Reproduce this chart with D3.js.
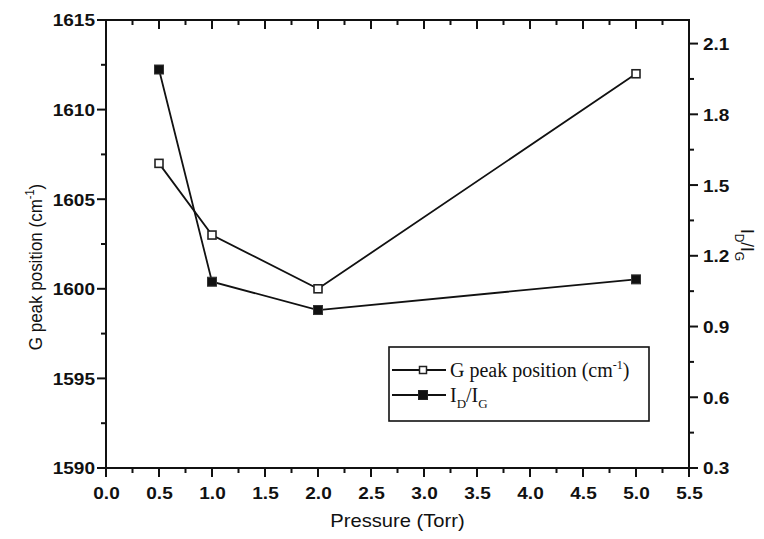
<!DOCTYPE html>
<html>
<head>
<meta charset="utf-8">
<script src="https://cdn.jsdelivr.net/npm/d3@7/dist/d3.min.js"></script>
<style>
  html, body { margin: 0; padding: 0; background: #fff; }
  svg { display: block; }
</style>
</head>
<body>
<svg id="chart" width="764" height="539"></svg>
<script>
// Pressure settings (Torr)
const pressure = [0.5, 1.0, 2.0, 5.0];
// Raman G band position (cm^-1), left axis
const gPeak = [1607, 1603, 1600, 1612];
// D/G intensity ratio, right axis
const idIg = [1.99, 1.09, 0.97, 1.10];

// Axis tick values
const xTicks = [0, 0.5, 1, 1.5, 2, 2.5, 3, 3.5, 4, 4.5, 5, 5.5];
const xMinor = [0.25, 0.75, 1.25, 1.75, 2.25, 2.75, 3.25, 3.75, 4.25, 4.75, 5.25];
const yLeftTicks = [1590, 1595, 1600, 1605, 1610, 1615];
const yLeftMinor = [1592.5, 1597.5, 1602.5, 1607.5, 1612.5];
const yRightTicks = [0.3, 0.6, 0.9, 1.2, 1.5, 1.8, 2.1];
const yRightMinor = [0.45, 0.75, 1.05, 1.35, 1.65, 1.95];

const svg = d3.select("#chart");
const L = 106, R = 689, T = 20, B = 468;
const SX = 1.12; // horizontal widening of the sans-serif lettering
const MAJ = 9, MIN = 5;

const x = d3.scaleLinear().domain([0, 5.5]).range([L, R]);
const yL = d3.scaleLinear().domain([1590, 1615]).range([B, T]);
const yR = d3.scaleLinear().domain([0.3, 2.2]).range([B, T]);

const sans = "'Liberation Sans', Arial, Helvetica, sans-serif";
const serif = "'Liberation Serif', 'Times New Roman', Times, serif";
const ink = "#111";

// tick marks: bottom/left/right point outward, top points into the plot
const tickG = svg.append("g").attr("stroke", ink).attr("stroke-width", 2);
function hTicks(vals, len, y0, dir) {
  tickG.append("g").selectAll("line").data(vals).join("line")
    .attr("x1", d => x(d)).attr("x2", d => x(d))
    .attr("y1", y0).attr("y2", y0 + dir * len);
}
function vTicks(scale, vals, len, x0, dir) {
  tickG.append("g").selectAll("line").data(vals).join("line")
    .attr("y1", d => scale(d)).attr("y2", d => scale(d))
    .attr("x1", x0).attr("x2", x0 + dir * len);
}
hTicks(xTicks, MAJ, B, 1);
hTicks(xMinor, MIN, B, 1);
hTicks(xTicks, MAJ, T, 1);
hTicks(xMinor, MIN, T, 1);
vTicks(yL, yLeftTicks, MAJ, L, -1);
vTicks(yL, yLeftMinor, MIN, L, -1);
vTicks(yR, yRightTicks, MAJ, R, 1);
vTicks(yR, yRightMinor, MIN, R, 1);

// tick labels via d3 axes
function labelAxis(g, tx) {
  g.select(".domain").remove();
  g.selectAll(".tick line").remove();
  g.selectAll(".tick text")
    .attr("font-family", sans).attr("font-size", 17).attr("font-weight", "bold")
    .attr("fill", ink).attr("x", 0).attr("y", 0).attr("dy", "0.35em")
    .attr("transform", `${tx} scale(${SX},1)`);
}
const fmt1 = d3.format(".1f");
svg.append("g").attr("transform", `translate(0,${B})`)
  .call(d3.axisBottom(x).tickValues(xTicks).tickFormat(fmt1))
  .call(g => labelAxis(g, "translate(0,25)"));
svg.append("g").attr("transform", `translate(${L},0)`)
  .call(d3.axisLeft(yL).tickValues(yLeftTicks).tickFormat(d3.format("d")))
  .call(g => labelAxis(g, "translate(-11,0)"));
svg.append("g").attr("transform", `translate(${R},0)`)
  .call(d3.axisRight(yR).tickValues(yRightTicks).tickFormat(fmt1))
  .call(g => labelAxis(g, "translate(14,0)"));

// frame
svg.append("rect").attr("x", L).attr("y", T).attr("width", R - L).attr("height", B - T)
  .attr("fill", "none").attr("stroke", ink).attr("stroke-width", 2);

// axis titles
svg.append("text").attr("font-family", sans).attr("font-size", 18).attr("fill", ink)
  .attr("text-anchor", "middle")
  .attr("transform", `translate(${(L + R) / 2},527) scale(${SX},1)`)
  .text("Pressure (Torr)");

const tl = svg.append("text").attr("font-family", sans).attr("font-size", 17).attr("fill", ink)
  .attr("text-anchor", "middle")
  .attr("transform", `translate(42,267) scale(${SX},1) rotate(-90)`);
tl.append("tspan").text("G peak position (cm");
tl.append("tspan").attr("font-size", 11).attr("dy", -7).text("-1");
tl.append("tspan").attr("dy", 7).text(")");

const tr = svg.append("text").attr("font-family", sans).attr("font-size", 17).attr("fill", ink)
  .attr("text-anchor", "middle")
  .attr("transform", `translate(741,245) scale(${SX},1) rotate(90)`);
tr.append("tspan").text("I");
tr.append("tspan").attr("font-size", 12).attr("dy", 5).text("D");
tr.append("tspan").attr("dy", -5).text("/I");
tr.append("tspan").attr("font-size", 12).attr("dy", 5).text("G");

// series
const ptsG = pressure.map((p, i) => [x(p), yL(gPeak[i])]);
const ptsR = pressure.map((p, i) => [x(p), yR(idIg[i])]);
const line = d3.line();

svg.append("path").attr("d", line(ptsG)).attr("fill", "none")
  .attr("stroke", ink).attr("stroke-width", 1.8);
svg.append("path").attr("d", line(ptsR)).attr("fill", "none")
  .attr("stroke", ink).attr("stroke-width", 1.8);

const ms = 8;
svg.append("g").selectAll("rect").data(ptsG).join("rect")
  .attr("x", d => d[0] - ms / 2).attr("y", d => d[1] - ms / 2)
  .attr("width", ms).attr("height", ms)
  .attr("fill", "#fff").attr("stroke", "#222").attr("stroke-width", 1.6);
svg.append("g").selectAll("rect").data(ptsR).join("rect")
  .attr("x", d => d[0] - ms / 2 - 0.5).attr("y", d => d[1] - ms / 2 - 0.5)
  .attr("width", ms + 1).attr("height", ms + 1)
  .attr("fill", ink).attr("stroke", "#333").attr("stroke-width", 1);

// legend
const lg = svg.append("g");
lg.append("rect").attr("x", 389).attr("y", 347).attr("width", 260).attr("height", 74)
  .attr("fill", "#fff").attr("stroke", ink).attr("stroke-width", 1.6);

const legendRows = [
  { y: 370, filled: false },
  { y: 395, filled: true }
];
legendRows.forEach(r => {
  lg.append("line").attr("x1", 392).attr("x2", 446).attr("y1", r.y).attr("y2", r.y)
    .attr("stroke", ink).attr("stroke-width", 1.8);
  const s = r.filled ? 9 : 7;
  lg.append("rect").attr("x", 423 - s / 2).attr("y", r.y - s / 2).attr("width", s).attr("height", s)
    .attr("fill", r.filled ? ink : "#fff").attr("stroke", "#222").attr("stroke-width", r.filled ? 1 : 1.5);
});

const lt1 = lg.append("text").attr("x", 450).attr("y", 377)
  .attr("font-family", serif).attr("font-size", 20).attr("fill", ink);
lt1.append("tspan").text("G peak position (cm");
lt1.append("tspan").attr("font-size", 12).attr("dy", -8).text("-1");
lt1.append("tspan").attr("dy", 8).text(")");

const lt2 = lg.append("text").attr("x", 450).attr("y", 402)
  .attr("font-family", serif).attr("font-size", 20).attr("fill", ink);
lt2.append("tspan").text("I");
lt2.append("tspan").attr("font-size", 13).attr("dy", 6).text("D");
lt2.append("tspan").attr("dy", -6).text("/I");
lt2.append("tspan").attr("font-size", 13).attr("dy", 6).text("G");
</script>
</body>
</html>
